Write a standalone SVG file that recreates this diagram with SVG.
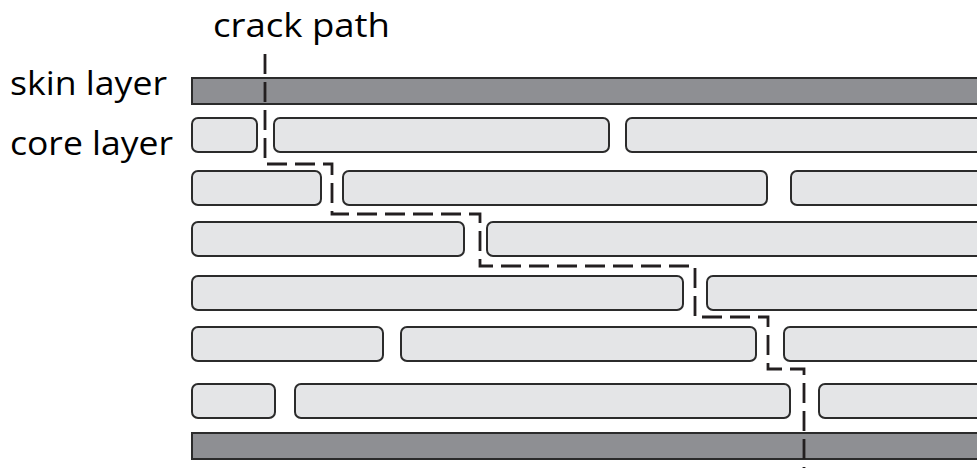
<svg xmlns="http://www.w3.org/2000/svg" width="977" height="473" viewBox="0 0 977 473">
<style>
.lbl{font-family:"Open Sans","Liberation Sans",sans-serif;font-size:33px;fill:#000}
.skin{fill:#8e8f93;stroke:#2b2b2b;stroke-width:2}
.core{fill:#e4e5e7;stroke:#2b2b2b;stroke-width:2}
.crack{fill:none;stroke:#231f20;stroke-width:2.8;stroke-dasharray:20 8}
</style>
<rect width="977" height="473" fill="#fff"/>
<g id="labels">
<text class="lbl" x="213" y="37" textLength="177" lengthAdjust="spacingAndGlyphs">crack path</text>
<text class="lbl" x="10" y="95" textLength="157" lengthAdjust="spacingAndGlyphs">skin layer</text>
<text class="lbl" x="10" y="155" textLength="163" lengthAdjust="spacingAndGlyphs">core layer</text>
</g>
<g id="skin-top"><rect class="skin" x="192" y="78" width="800" height="26"/></g>
<g id="skin-bottom"><rect class="skin" x="192" y="433" width="800" height="26"/></g>
<g id="row1">
<rect class="core" x="192" y="118" width="65" height="34" rx="6"/>
<rect class="core" x="274" y="118" width="335" height="34" rx="6"/>
<rect class="core" x="626" y="118" width="370" height="34" rx="6"/>
</g>
<g id="row2">
<rect class="core" x="192" y="171" width="129" height="34" rx="6"/>
<rect class="core" x="343" y="171" width="424" height="34" rx="6"/>
<rect class="core" x="791" y="171" width="210" height="34" rx="6"/>
</g>
<g id="row3">
<rect class="core" x="192" y="222" width="272" height="34" rx="6"/>
<rect class="core" x="487" y="222" width="510" height="34" rx="6"/>
</g>
<g id="row4">
<rect class="core" x="192" y="276" width="491" height="34" rx="6"/>
<rect class="core" x="707" y="276" width="300" height="34" rx="6"/>
</g>
<g id="row5">
<rect class="core" x="192" y="327" width="191" height="34" rx="6"/>
<rect class="core" x="401" y="327" width="355" height="34" rx="6"/>
<rect class="core" x="784" y="327" width="220" height="34" rx="6"/>
</g>
<g id="row6">
<rect class="core" x="192" y="384" width="83" height="34" rx="6"/>
<rect class="core" x="295" y="384" width="495" height="34" rx="6"/>
<rect class="core" x="819" y="384" width="200" height="34" rx="6"/>
</g>
<g id="connectors">
<path class="crack" d="M265 54 V164 H332 V214 H480 V266 H695 V317 H768 V369 H804 V468"/>
</g>
</svg>
